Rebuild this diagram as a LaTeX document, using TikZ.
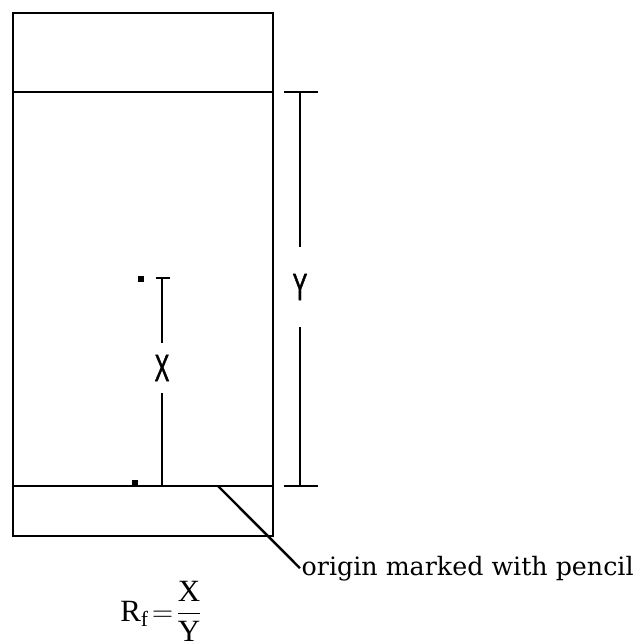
\documentclass[tikz,border=0pt]{standalone}
\usepackage{amsmath}
\usepackage{fontspec}
\setmainfont{Liberation Serif}
\newfontfamily\lblfont[FakeStretch=0.58,FakeBold=1.2]{Liberation Sans}
\newfontfamily\notefont{DejaVu Serif}
\usetikzlibrary{positioning,calc}
\tikzset{
  plate/.style={line width=1.7pt},
  meas/.style={line width=1.7pt},
  spot/.style={rectangle,fill=black,inner sep=0pt,minimum size=3.8pt},
  dimlbl/.style={font=\lblfont\fontsize{27}{30}\selectfont,inner sep=0pt},
  note/.style={font=\notefont\fontsize{18}{22}\selectfont,inner sep=1pt},
}
\begin{document}
\begin{tikzpicture}[x=0.025cm,y=-0.025cm]
  \useasboundingbox (0,0) rectangle (643,640);
  % TLC plate with solvent front and origin line
  \draw[plate] (13,13) rectangle (273,536);
  \draw[plate] (13,92) -- (273,92);
  \draw[plate] (13,486) -- (273,486);
  \coordinate (lead) at (218,486);
  % spots
  \node[spot] (spotA) at (141,279) {};
  \node[spot] (spotB) at (135,483) {};
  % distance travelled by spot
  \coordinate (xtop) at (162,278);
  \coordinate (xbot) at (162,486);
  \node[dimlbl,minimum height=35pt] (xlbl) at (162,368) {X};
  \draw[meas] ($(xtop)+(-6,0)$) -- ($(xtop)+(8,0)$);
  \draw[meas] (xtop) -- (xlbl);
  \draw[meas] (xlbl) -- (xbot);
  % distance travelled by solvent
  \coordinate (ytop) at (300,92);
  \coordinate (ybot) at (300,486);
  \node[dimlbl,minimum height=57pt] (ylbl) at (300,287) {Y};
  \draw[meas] ($(ytop)+(-16,0)$) -- ($(ytop)+(18,0)$);
  \draw[meas] ($(ybot)+(-16,0)$) -- ($(ybot)+(18,0)$);
  \draw[meas] (ytop) -- (ylbl);
  \draw[meas] (ylbl) -- (ybot);
  % annotation
  \node[note,anchor=base west] (orig) at (300,575) {origin marked with pencil};
  \draw[plate] (lead) -- (orig.west);
  \node[anchor=west,inner sep=0pt,font=\fontsize{22}{26}\selectfont] (rf) at (120,611)
    {$\mathrm{R_f}\!=\!\dfrac{\mathrm{X}}{\mathrm{Y}}$};
\end{tikzpicture}
\end{document}
